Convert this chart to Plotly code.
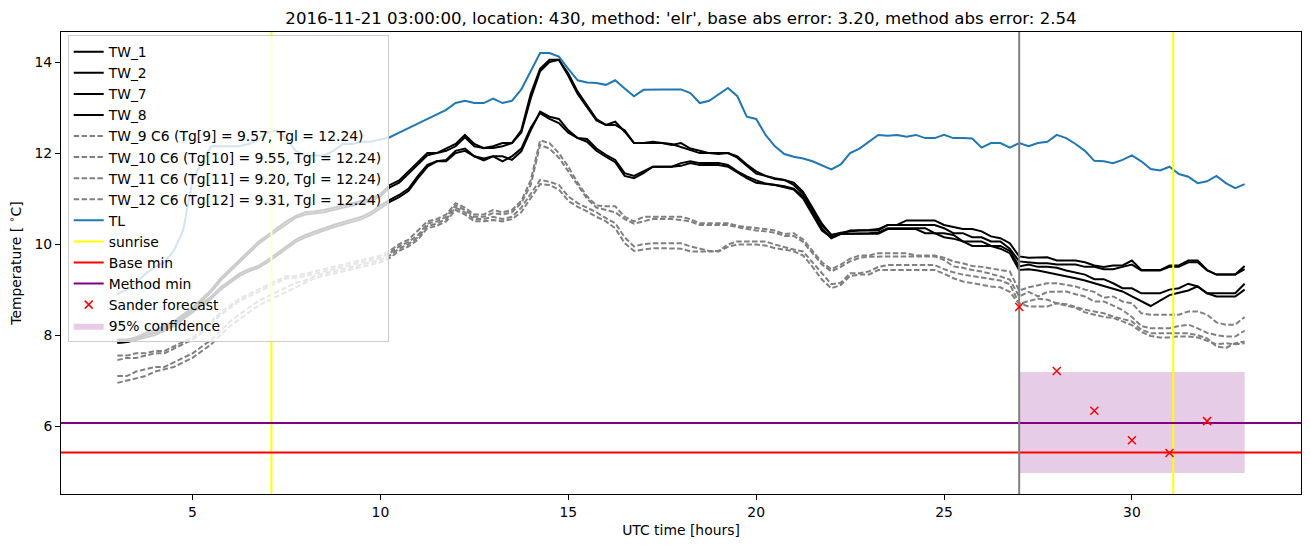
import plotly.graph_objects as go

# ---------------- data ----------------
t_start, t_step, n_pts = 3.0, 0.25, 121
hours = [t_start + t_step * i for i in range(n_pts)]

TL = [8.9, 9.0, 9.15, 9.35,
      9.5, 9.6, 9.85, 10.3,
      11.4, 11.8, 12.15, 12.15,
      12.15, 12.15, 12.2, 12.3,
      12.45, 12.5, 12.3, 12.05,
      11.95, 11.95, 11.95, 12.05,
      12.2, 12.2, 12.25, 12.25,
      12.3, 12.35, 12.45, 12.55,
      12.65, 12.75, 12.85, 12.95,
      13.1, 13.15, 13.1, 13.1,
      13.2, 13.1, 13.15, 13.4,
      13.8, 14.2, 14.2, 14.12,
      13.85, 13.6, 13.55, 13.54,
      13.5, 13.6, 13.42, 13.25,
      13.39, 13.4, 13.4, 13.4,
      13.4, 13.32, 13.1, 13.15,
      13.3, 13.43, 13.25, 12.8,
      12.75, 12.4, 12.15, 11.98,
      11.92, 11.88, 11.82, 11.73,
      11.64, 11.75, 12.0, 12.1,
      12.25, 12.4, 12.38, 12.4,
      12.36, 12.4, 12.33, 12.33,
      12.4, 12.33, 12.33, 12.32,
      12.12, 12.22, 12.22, 12.12,
      12.22, 12.15, 12.22, 12.25,
      12.4, 12.33, 12.2, 12.05,
      11.83, 11.82, 11.78, 11.85,
      11.95, 11.82, 11.65, 11.62,
      11.7, 11.54, 11.48, 11.34,
      11.38, 11.5, 11.34, 11.23,
      11.32]

TW_1 = [7.9, 7.9, 7.95, 8.05,
        8.1, 8.2, 8.3, 8.45,
        8.6, 8.8, 9.0, 9.25,
        9.45, 9.65, 9.85, 10.05,
        10.2, 10.35, 10.5, 10.62,
        10.7, 10.72, 10.75, 10.8,
        10.85, 10.9, 10.95, 11.0,
        11.1, 11.3, 11.4, 11.6,
        11.8, 12.0, 12.0, 12.1,
        12.2, 12.4, 12.2, 12.11,
        12.15, 12.22, 12.22, 12.5,
        13.3, 13.85, 14.05, 14.05,
        13.7, 13.3, 13.0, 12.72,
        12.62, 12.69, 12.47, 12.22,
        12.22, 12.25, 12.22, 12.18,
        12.22, 12.1, 12.05, 12.0,
        12.0, 12.0, 11.93, 11.75,
        11.6, 11.5, 11.45, 11.41,
        11.35, 11.15, 10.8, 10.45,
        10.2, 10.23, 10.3, 10.3,
        10.31, 10.33, 10.42, 10.42,
        10.52, 10.52, 10.52, 10.52,
        10.42, 10.38, 10.33, 10.33,
        10.28, 10.17, 10.13, 10.02,
        9.73, 9.7, 9.71, 9.71,
        9.64, 9.64, 9.64, 9.6,
        9.53, 9.5, 9.53, 9.53,
        9.64, 9.43, 9.43, 9.43,
        9.53, 9.53, 9.64, 9.64,
        9.43, 9.33, 9.33, 9.33,
        9.52]

TW_2 = [7.83, 7.85, 7.9, 8.0,
        8.05, 8.15, 8.25, 8.4,
        8.55, 8.75, 8.95, 9.2,
        9.4, 9.6, 9.8, 10.0,
        10.15, 10.3, 10.45, 10.58,
        10.65, 10.68, 10.7, 10.75,
        10.8, 10.85, 10.9, 10.95,
        11.05, 11.25, 11.35, 11.55,
        11.75, 11.95, 12.0, 12.05,
        12.15, 12.35, 12.15, 12.11,
        12.11, 12.15, 12.22, 12.45,
        13.2, 13.8, 14.0, 14.05,
        13.75, 13.35, 13.05, 12.75,
        12.62, 12.62, 12.5, 12.22,
        12.22, 12.22, 12.22, 12.2,
        12.13, 12.07, 12.0, 12.0,
        11.98, 12.0, 11.9, 11.72,
        11.55, 11.5, 11.43, 11.41,
        11.3, 11.1, 10.75, 10.42,
        10.2, 10.25, 10.28, 10.3,
        10.3, 10.3, 10.42, 10.42,
        10.42, 10.42, 10.42, 10.42,
        10.35, 10.24, 10.24, 10.15,
        10.15, 10.06, 10.06, 9.9,
        9.62, 9.6, 9.58, 9.58,
        9.55, 9.55, 9.55, 9.5,
        9.5, 9.45, 9.45, 9.5,
        9.55, 9.42, 9.42, 9.42,
        9.5, 9.5, 9.6, 9.6,
        9.42, 9.33, 9.33, 9.33,
        9.45]

TW_7 = [7.9, 7.9, 7.95, 8.0,
        8.05, 8.15, 8.25, 8.4,
        8.55, 8.7, 8.85, 9.05,
        9.2, 9.35, 9.45, 9.52,
        9.65, 9.8, 9.95, 10.1,
        10.2, 10.28, 10.35, 10.42,
        10.48, 10.53, 10.6, 10.7,
        10.85, 10.97, 11.08, 11.22,
        11.5, 11.74, 11.82, 11.85,
        12.05, 12.1, 11.93, 11.88,
        11.93, 11.93, 11.85, 12.04,
        12.5, 12.91, 12.8, 12.75,
        12.5, 12.33, 12.31, 12.1,
        11.96, 11.85, 11.56, 11.5,
        11.6, 11.7, 11.7, 11.7,
        11.78, 11.82, 11.78, 11.78,
        11.78, 11.74, 11.6, 11.49,
        11.4, 11.33, 11.3, 11.27,
        11.22, 11.05, 10.7, 10.35,
        10.13, 10.22, 10.23, 10.23,
        10.24, 10.25, 10.35, 10.35,
        10.35, 10.35, 10.35, 10.24,
        10.24, 10.2, 10.06, 10.06,
        10.06, 9.96, 9.96, 9.85,
        9.51, 9.55, 9.5, 9.5,
        9.48, 9.42, 9.38, 9.33,
        9.23, 9.23, 9.14, 9.03,
        9.03, 8.92, 8.92, 8.92,
        9.0, 9.03, 9.13, 9.07,
        8.92, 8.92, 8.92, 8.92,
        9.13]

TW_8 = [7.83, 7.85, 7.9, 7.95,
        8.0, 8.1, 8.2, 8.35,
        8.5, 8.65, 8.8, 9.0,
        9.15, 9.3, 9.4, 9.48,
        9.6, 9.75, 9.9, 10.05,
        10.15, 10.23, 10.3, 10.37,
        10.43, 10.48, 10.55, 10.65,
        10.8, 10.93, 11.03, 11.17,
        11.45, 11.7, 11.82, 11.82,
        12.0, 12.05, 11.93, 11.84,
        11.93, 11.82, 11.93, 12.1,
        12.55, 12.88, 12.75, 12.66,
        12.45, 12.33, 12.25, 12.05,
        11.92, 11.8, 11.5, 11.45,
        11.56, 11.7, 11.7, 11.7,
        11.72, 11.78, 11.74, 11.74,
        11.74, 11.7, 11.58, 11.45,
        11.35, 11.33, 11.3, 11.25,
        11.2, 11.0, 10.65, 10.3,
        10.15, 10.23, 10.23, 10.23,
        10.23, 10.23, 10.33, 10.33,
        10.33, 10.33, 10.24, 10.24,
        10.15, 10.12, 10.06, 9.96,
        9.96, 9.96, 9.9, 9.8,
        9.43, 9.45, 9.42, 9.38,
        9.33, 9.3, 9.25, 9.2,
        9.14, 9.07, 9.02, 8.96,
        8.85, 8.74, 8.64, 8.76,
        8.88, 8.93, 8.98, 9.07,
        8.92, 8.85, 8.85, 8.85,
        9.0]

TW_9 = [7.55, 7.55, 7.6, 7.6,
        7.65, 7.65, 7.75, 7.85,
        7.95, 8.1, 8.3, 8.5,
        8.65, 8.8, 8.9, 9.0,
        9.1, 9.2, 9.3, 9.3,
        9.35, 9.4, 9.45, 9.5,
        9.55, 9.6, 9.65, 9.7,
        9.75, 9.85, 10.0, 10.1,
        10.3, 10.5, 10.55, 10.65,
        10.9, 10.8, 10.65, 10.65,
        10.75, 10.7, 10.75, 10.95,
        11.4, 12.28, 12.22, 12.0,
        11.7, 11.35, 11.05, 10.85,
        10.83, 10.83, 10.6, 10.5,
        10.6, 10.6, 10.6, 10.6,
        10.6, 10.55, 10.46, 10.46,
        10.46, 10.46, 10.4, 10.38,
        10.35, 10.33, 10.3, 10.22,
        10.24, 10.1, 9.85, 9.6,
        9.45, 9.55, 9.68, 9.75,
        9.75, 9.8, 9.8, 9.8,
        9.8, 9.75, 9.75, 9.75,
        9.7, 9.62, 9.58, 9.52,
        9.5, 9.46, 9.43, 9.4,
        8.98, 9.05, 9.1, 9.14,
        9.14, 9.1, 9.07, 9.0,
        8.95, 8.82, 8.85, 8.74,
        8.7, 8.48, 8.45, 8.45,
        8.45, 8.45, 8.52, 8.52,
        8.45, 8.28, 8.23, 8.23,
        8.4]

TW_10 = [7.45, 7.5, 7.5, 7.55,
         7.6, 7.6, 7.7, 7.8,
         7.9, 8.05, 8.25, 8.45,
         8.6, 8.75, 8.85, 8.95,
         9.05, 9.15, 9.25, 9.25,
         9.3, 9.35, 9.4, 9.45,
         9.5, 9.55, 9.6, 9.65,
         9.7, 9.8, 9.95, 10.05,
         10.2, 10.45, 10.5, 10.6,
         10.85, 10.75, 10.6, 10.6,
         10.68, 10.65, 10.7, 10.9,
         11.3, 12.18, 12.1, 11.9,
         11.6, 11.3, 11.0, 10.8,
         10.75, 10.7, 10.55, 10.45,
         10.5, 10.55, 10.55, 10.55,
         10.53, 10.5, 10.42, 10.42,
         10.42, 10.42, 10.37, 10.33,
         10.3, 10.28, 10.25, 10.18,
         10.18, 10.05, 9.8, 9.55,
         9.4, 9.5, 9.62, 9.7,
         9.72, 9.73, 9.73, 9.73,
         9.73, 9.73, 9.73, 9.73,
         9.65, 9.51, 9.48, 9.43,
         9.4, 9.35, 9.29, 9.22,
         8.85, 8.95, 8.85, 8.95,
         8.96, 8.96, 8.9, 8.85,
         8.74, 8.74, 8.65, 8.55,
         8.4, 8.2, 8.15, 8.15,
         8.15, 8.2, 8.23, 8.15,
         8.05, 8.0, 7.97, 7.97,
         8.1]

TW_11 = [7.1, 7.1, 7.2, 7.25,
         7.3, 7.3, 7.4, 7.5,
         7.6, 7.75, 7.9, 8.1,
         8.3, 8.45, 8.6, 8.75,
         8.85, 8.95, 9.05, 9.15,
         9.2, 9.3, 9.35, 9.4,
         9.45, 9.5, 9.55, 9.6,
         9.65, 9.75, 9.9, 10.0,
         10.15, 10.4, 10.45, 10.55,
         10.8, 10.7, 10.55, 10.55,
         10.6, 10.55, 10.6, 10.8,
         11.1, 11.41, 11.37, 11.3,
         11.05, 10.9, 10.8, 10.7,
         10.57, 10.46, 10.15, 9.95,
         10.0, 10.02, 10.02, 10.02,
         10.02, 9.95, 9.9, 9.85,
         9.85, 9.99, 10.06, 10.06,
         10.06, 10.06, 9.99, 9.93,
         9.88, 9.84, 9.6, 9.35,
         9.12, 9.15, 9.36, 9.36,
         9.4, 9.5, 9.54, 9.54,
         9.54, 9.54, 9.54, 9.54,
         9.45, 9.38, 9.33, 9.3,
         9.27, 9.24, 9.2, 9.12,
         8.7, 8.63, 8.63, 8.63,
         8.7, 8.68, 8.62, 8.56,
         8.52, 8.48, 8.41, 8.35,
         8.3, 8.12, 8.04, 8.04,
         8.04, 8.04, 8.04, 8.0,
         7.93, 7.75, 7.72, 7.82,
         7.86]

TW_12 = [6.95, 7.0, 7.05, 7.1,
         7.2, 7.25, 7.3, 7.4,
         7.5, 7.65, 7.8, 8.0,
         8.2, 8.35, 8.5, 8.65,
         8.75, 8.85, 8.95, 9.05,
         9.15, 9.25, 9.3, 9.35,
         9.4, 9.45, 9.5, 9.55,
         9.6, 9.7, 9.85, 9.95,
         10.1, 10.35, 10.4, 10.5,
         10.75, 10.65, 10.5, 10.5,
         10.53, 10.5, 10.55, 10.7,
         11.0, 11.32, 11.3, 11.2,
         10.95, 10.82, 10.72, 10.6,
         10.5, 10.35, 10.02, 9.85,
         9.88, 9.91, 9.91, 9.91,
         9.9, 9.84, 9.84, 9.84,
         9.84, 9.94, 9.99, 9.99,
         9.99, 9.97, 9.91, 9.88,
         9.84, 9.75, 9.5, 9.22,
         9.03, 9.1, 9.3, 9.33,
         9.33, 9.43, 9.43, 9.43,
         9.43, 9.43, 9.43, 9.43,
         9.35, 9.25, 9.18, 9.14,
         9.1, 9.07, 9.05, 8.95,
         8.68, 8.75, 8.8, 8.78,
         8.7, 8.65, 8.6, 8.5,
         8.45, 8.4, 8.38, 8.3,
         8.22, 8.07, 7.98, 7.95,
         7.95, 7.97, 7.97, 7.95,
         7.88, 7.8, 7.82, 7.8,
         7.82]

sunrise_times = [7.1, 31.1]
forecast_start = 27.0
base_min = 5.42
method_min = 6.07

sander_hours = [27, 28, 29, 30, 31, 32]
sander_values = [8.62, 7.21, 6.34, 5.69, 5.41, 6.11]

conf_hours = [27, 33]
conf_low = 4.97
conf_high = 7.19

solid_names = ["TW_1", "TW_2", "TW_7", "TW_8"]
solid_series = [TW_1, TW_2, TW_7, TW_8]
dashed_names = ["TW_9 C6 (Tg[9] = 9.57, Tgl = 12.24)",
                "TW_10 C6 (Tg[10] = 9.55, Tgl = 12.24)",
                "TW_11 C6 (Tg[11] = 9.20, Tgl = 12.24)",
                "TW_12 C6 (Tg[12] = 9.31, Tgl = 12.24)"]
dashed_series = [TW_9, TW_10, TW_11, TW_12]

title_text = ("2016-11-21 03:00:00, location: 430, method: 'elr', "
              "base abs error: 3.20, method abs error: 2.54")

# ---------------- axis ranges (matplotlib-like 5% margins) ----------------
all_x = hours + conf_hours
x_lo, x_hi = min(all_x), max(all_x)
x_pad = 0.05 * (x_hi - x_lo)
x_range = [x_lo - x_pad, x_hi + x_pad]

all_y = TL + sum(solid_series, []) + sum(dashed_series, []) + sander_values + [conf_low, conf_high, base_min, method_min]
y_lo, y_hi = min(all_y), max(all_y)
y_pad = 0.05 * (y_hi - y_lo)
y_range = [y_lo - y_pad, y_hi + y_pad]

LW = 2.0
fig = go.Figure()

# confidence band (patch -> below the lines)
fig.add_trace(go.Scatter(
    x=[conf_hours[0], conf_hours[1], conf_hours[1], conf_hours[0], conf_hours[0]],
    y=[conf_low, conf_low, conf_high, conf_high, conf_low],
    fill="toself", fillcolor="rgba(128,0,128,0.2)", mode="lines",
    line=dict(width=0, color="rgba(128,0,128,0)"),
    name="95% confidence", legendrank=14, hoverinfo="skip"))

rank = 1
for nm, s in zip(solid_names, solid_series):
    fig.add_trace(go.Scatter(x=hours, y=s, mode="lines", name=nm,
                             line=dict(color="black", width=LW), legendrank=rank))
    rank += 1
for nm, s in zip(dashed_names, dashed_series):
    fig.add_trace(go.Scatter(x=hours, y=s, mode="lines", name=nm,
                             line=dict(color="gray", width=LW, dash="5.5px,2.4px"),
                             legendrank=rank))
    rank += 1

fig.add_trace(go.Scatter(x=hours, y=TL, mode="lines", name="TL",
                         line=dict(color="#1f77b4", width=LW), legendrank=9))

for i, st in enumerate(sunrise_times):
    fig.add_trace(go.Scatter(x=[st, st], y=y_range, mode="lines", name="sunrise",
                             line=dict(color="yellow", width=LW), legendrank=10,
                             showlegend=(i == 0)))

fig.add_trace(go.Scatter(x=x_range, y=[base_min, base_min], mode="lines", name="Base min",
                         line=dict(color="red", width=LW), legendrank=11))
fig.add_trace(go.Scatter(x=x_range, y=[method_min, method_min], mode="lines", name="Method min",
                         line=dict(color="purple", width=LW), legendrank=12))

fig.add_trace(go.Scatter(x=[forecast_start, forecast_start], y=y_range, mode="lines",
                         line=dict(color="gray", width=LW), showlegend=False))

fig.add_trace(go.Scatter(x=sander_hours, y=sander_values, mode="markers", name="Sander forecast",
                         marker=dict(symbol="x-thin", size=8, color="red",
                                     line=dict(color="red", width=1.5)),
                         legendrank=13))

font_px = 13.9
fig.update_layout(
    width=1310, height=547,
    margin=dict(l=61, r=9, t=32, b=53),
    paper_bgcolor="white", plot_bgcolor="white",
    font=dict(family="DejaVu Sans", size=font_px, color="black"),
    title=dict(text=title_text, x=0.5, xref="paper", xanchor="center",
               y=1 - 18 / 547, yref="container", yanchor="middle",
               font=dict(size=16.6, color="black")),
    showlegend=True,
    legend=dict(x=0.0054, y=0.993, xanchor="left", yanchor="top",
                bgcolor="rgba(255,255,255,0.8)", bordercolor="#cccccc", borderwidth=1,
                font=dict(size=font_px, color="black"), itemwidth=30,
                tracegroupgap=0, traceorder="normal"),
)
fig.update_xaxes(range=x_range, showgrid=False, zeroline=False, showline=True, mirror=True,
                 linecolor="black", linewidth=1, ticks="outside", ticklen=5, tickwidth=1,
                 tickcolor="black", tick0=0, dtick=5,
                 title=dict(text="UTC time [hours]", standoff=6, font=dict(size=font_px)))
fig.update_yaxes(range=y_range, showgrid=False, zeroline=False, showline=True, mirror=True,
                 linecolor="black", linewidth=1, ticks="outside", ticklen=5, tickwidth=1,
                 tickcolor="black", tick0=0, dtick=2,
                 title=dict(text="Temperature [ <sup>∘</sup>C]", standoff=9, font=dict(size=font_px)))

fig.write_html("out.html")
